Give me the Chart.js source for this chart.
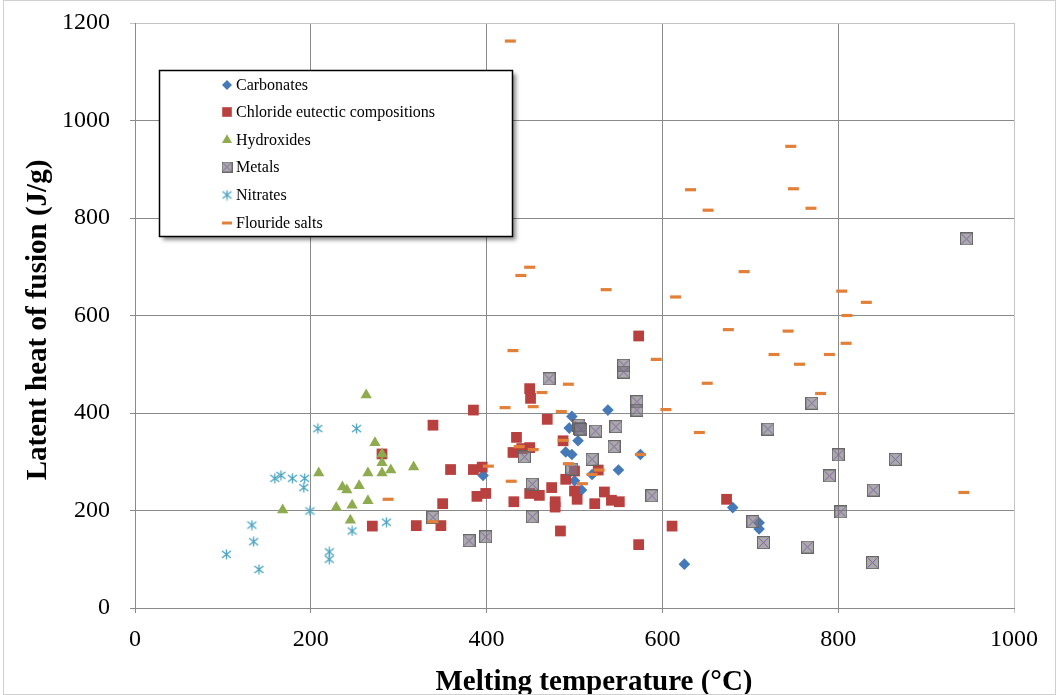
<!DOCTYPE html>
<html>
<head>
<meta charset="utf-8">
<title>Latent heat vs melting temperature</title>
<script src="https://cdn.jsdelivr.net/npm/chart.js@4.4.1/dist/chart.umd.min.js"></script>
<style>
  html, body { margin: 0; padding: 0; background: #ffffff; }
  #wrap { width: 1059px; height: 695px; }
</style>
</head>
<body>
<div id="wrap"><canvas id="chart" width="1059" height="695"></canvas></div>
<script>
// ==================================================
// DATOS - temperatura de fusión (°C) y calor latente (J/g)
// ==================================================
const carbonatesT = [396, 497, 494, 504, 490, 497, 500, 508, 520, 538, 550, 575, 680, 710, 710, 625];
const carbonatesH = [272, 393, 369, 343, 320, 315, 261, 242, 274, 406, 283, 315, 206, 175, 162, 90];

const chloridesT = [339, 281, 359, 350, 270, 320, 348, 385, 395, 385, 389, 399, 431, 434, 430, 440, 449, 449, 450, 469,
                    487, 449, 460, 474, 490, 500, 503, 478, 478, 500, 527, 523, 534, 542, 551, 484, 573, 573, 673, 611];
const chloridesH = [375, 316, 284, 214, 168, 169, 169, 284, 289, 406, 229, 235, 218, 350, 319, 327, 329, 450, 430, 387,
                    343, 235, 231, 247, 264, 240, 223, 218, 207, 281, 283, 214, 238, 221, 218, 158, 130, 558, 223, 168];

const hydroxidesT = [263, 273, 281, 281, 265, 281, 291, 317, 209, 236, 241, 255, 229, 247, 265, 168, 245];
const hydroxidesH = [437, 339, 316, 298, 277, 277, 283, 289, 277, 248, 242, 251, 206, 211, 220, 201, 180];

const metalsT = [339, 471, 556, 556, 571, 571, 506, 505, 507, 524, 547, 545, 520, 443, 497, 452, 588, 452, 380, 399,
                 770, 720, 800, 790, 840, 803, 703, 715, 765, 839, 865, 946];
const metalsH = [186, 470, 498, 484, 423, 406, 368, 375, 366, 363, 372, 331, 305, 310, 285, 254, 230, 187, 138, 146,
                 420, 367, 314, 271, 242, 197, 177, 134, 125, 93, 305, 757];

const nitratesT = [208, 252, 159, 166, 179, 193, 192, 199, 133, 135, 104, 141, 221, 221, 247, 286];
const nitratesH = [368, 368, 266, 272, 266, 266, 247, 199, 170, 136, 110, 79, 115, 100, 158, 176];

const fluoridesT = [427, 746, 632, 749, 652, 769, 693, 449, 439, 536, 615, 804, 832, 810, 675, 743, 809, 727, 790, 756,
                    593, 430, 651, 493, 463, 780, 421, 453, 485, 604, 642, 437, 453, 487, 402, 493, 520, 528, 509, 428,
                    575, 339, 288, 943];
const fluoridesH = [1163, 947, 858, 860, 816, 820, 690, 699, 682, 653, 638, 650, 627, 600, 571, 568, 543, 520, 520, 500,
                    510, 528, 461, 459, 442, 440, 411, 413, 403, 407, 360, 331, 325, 344, 291, 296, 274, 283, 255, 260,
                    315, 177, 223, 237];

const seriesNames = ['Carbonates', 'Chloride eutectic compositions', 'Hydroxides', 'Metals', 'Nitrates', 'Flouride salts'];
const xTicks = [0, 200, 400, 600, 800, 1000];
const yTicks = [0, 200, 400, 600, 800, 1000, 1200];

const xTitle = 'Melting temperature (°C)';
const yTitle = 'Latent heat of fusion (J/g)';

// ==================================================
// MARCADORES PERSONALIZADOS
// ==================================================
function makeMetalIcon(size) {
    const c = document.createElement('canvas');
    c.width = size; c.height = size;
    const g = c.getContext('2d');
    g.fillStyle = 'rgba(125,125,125,0.65)';
    g.fillRect(0, 0, size, size);
    g.strokeStyle = 'rgba(95,95,95,0.9)';
    g.lineWidth = 1;
    g.strokeRect(0.5, 0.5, size - 1, size - 1);
    g.strokeStyle = '#7d5fa6';
    g.beginPath();
    g.moveTo(1.5, 1.5); g.lineTo(size - 1.5, size - 1.5);
    g.moveTo(size - 1.5, 1.5); g.lineTo(1.5, size - 1.5);
    g.stroke();
    return c;
}

function makeNitrateIcon(size) {
    const c = document.createElement('canvas');
    c.width = size; c.height = size;
    const g = c.getContext('2d');
    const m = size / 2;
    g.strokeStyle = '#4aa3c0';
    g.lineWidth = 1.3;
    g.beginPath();
    g.moveTo(m, 0.5); g.lineTo(m, size - 0.5);
    g.moveTo(1, 2); g.lineTo(size - 1, size - 2);
    g.moveTo(size - 1, 2); g.lineTo(1, size - 2);
    g.stroke();
    return c;
}

const metalIcon = makeMetalIcon(13);
const metalIconSmall = makeMetalIcon(11);
const nitrateIcon = makeNitrateIcon(11);

function toPoints(xs, ys) {
    return xs.map((x, i) => ({ x: x, y: ys[i] }));
}

const datasets = [
    {
        label: seriesNames[0],
        data: toPoints(carbonatesT, carbonatesH),
        pointStyle: 'rectRot',
        pointRadius: 5.8,
        backgroundColor: '#4579b8',
        borderColor: '#4579b8',
        borderWidth: 0,
        order: 6
    },
    {
        label: seriesNames[1],
        data: toPoints(chloridesT, chloridesH),
        pointStyle: 'rect',
        pointRadius: 7.6,
        backgroundColor: '#b8403e',
        borderColor: '#b8403e',
        borderWidth: 0,
        order: 5
    },
    {
        label: seriesNames[2],
        data: toPoints(hydroxidesT, hydroxidesH),
        pointStyle: 'triangle',
        pointRadius: 6.5,
        backgroundColor: '#8eac4f',
        borderColor: '#8eac4f',
        borderWidth: 0,
        order: 4
    },
    {
        label: seriesNames[3],
        data: toPoints(metalsT, metalsH),
        pointStyle: metalIcon,
        order: 3
    },
    {
        label: seriesNames[4],
        data: toPoints(nitratesT, nitratesH),
        pointStyle: nitrateIcon,
        order: 2
    },
    {
        label: seriesNames[5],
        data: toPoints(fluoridesT, fluoridesH),
        pointStyle: 'line',
        pointRadius: 5.5,
        backgroundColor: '#e2803a',
        borderColor: '#e2803a',
        borderWidth: 3.2,
        order: 1
    }
];

// ==================================================
// LEYENDA EN CAJA (como en el original)
// ==================================================
const boxLegend = {
    id: 'boxLegend',
    afterDraw(chart) {
        const ctx = chart.ctx;
        const bx = 159.5, by = 70.5, bw = 353, bh = 166;
        ctx.save();
        ctx.shadowColor = 'rgba(0,0,0,0.45)';
        ctx.shadowBlur = 4;
        ctx.shadowOffsetX = 3;
        ctx.shadowOffsetY = 3;
        ctx.fillStyle = '#ffffff';
        ctx.fillRect(bx, by, bw, bh);
        ctx.restore();

        ctx.save();
        ctx.strokeStyle = '#000000';
        ctx.lineWidth = 1.5;
        ctx.strokeRect(bx, by, bw, bh);

        const rows = [85, 112, 140, 167, 195, 223];
        const styles = [
            { pointStyle: 'rectRot', radius: 5, color: '#4579b8', bw: 0 },
            { pointStyle: 'rect', radius: 6.8, color: '#b8403e', bw: 0 },
            { pointStyle: 'triangle', radius: 5.8, color: '#8eac4f', bw: 0 },
            { pointStyle: metalIconSmall },
            { pointStyle: nitrateIcon },
            { pointStyle: 'line', radius: 5, color: '#e2803a', bw: 3 }
        ];
        ctx.font = '16px "Liberation Serif", "Times New Roman", serif';
        ctx.textBaseline = 'middle';
        ctx.textAlign = 'left';
        rows.forEach((y, i) => {
            const s = styles[i];
            ctx.fillStyle = s.color || '#000';
            ctx.strokeStyle = s.color || '#000';
            ctx.lineWidth = s.bw || 0;
            Chart.helpers.drawPoint(ctx, {
                pointStyle: s.pointStyle,
                radius: s.radius || 5,
                rotation: 0,
                borderWidth: s.bw || 0
            }, 227, y);
            ctx.fillStyle = '#000000';
            ctx.fillText(seriesNames[i], 236, y + 1);
        });
        ctx.restore();
    }
};

// ==================================================
// TÍTULOS DE EJES Y BORDE EXTERIOR
// ==================================================
const axisTitles = {
    id: 'axisTitles',
    afterDraw(chart) {
        const ctx = chart.ctx;
        ctx.save();
        ctx.fillStyle = '#000000';
        ctx.font = 'bold 29px "Liberation Serif", "Times New Roman", serif';
        ctx.textAlign = 'center';
        ctx.textBaseline = 'alphabetic';
        ctx.fillText(xTitle, 594, 690);
        ctx.translate(46, 320);
        ctx.rotate(-Math.PI / 2);
        ctx.fillText(yTitle, 0, 0);
        ctx.restore();

        ctx.save();
        ctx.strokeStyle = '#d0d0d0';
        ctx.lineWidth = 1;
        ctx.strokeRect(3.5, 0.5, 1052, 694);
        ctx.restore();
    }
};

const tickFont = { family: '"Liberation Serif", "Times New Roman", serif', size: 24 };

function gridColor(ctx) {
    const v = ctx.tick ? ctx.tick.value : null;
    if (v === 1200 || v === 1000 && ctx.scale.axis === 'x') return '#c4c4c4';
    return '#8a8a8a';
}

new Chart(document.getElementById('chart'), {
    type: 'scatter',
    data: { datasets: datasets },
    options: {
        responsive: false,
        devicePixelRatio: 1,
        animation: false,
        events: [],
        layout: { padding: { left: 0, top: 23, right: 45, bottom: 0 } },
        plugins: {
            legend: { display: false },
            tooltip: { enabled: false }
        },
        scales: {
            x: {
                type: 'linear',
                min: 0,
                max: 1000,
                afterBuildTicks(scale) { scale.ticks = xTicks.map(v => ({ value: v })); },
                afterFit(scale) {
                    scale.height = 87;
                    scale.paddingLeft = 0;
                    scale.paddingRight = 0;
                },
                grid: { color: gridColor, lineWidth: 1, tickLength: 5 },
                border: { color: '#8a8a8a', width: 1 },
                ticks: {
                    font: tickFont,
                    color: '#000000',
                    padding: 12,
                    maxRotation: 0,
                    callback: v => String(v)
                }
            },
            y: {
                type: 'linear',
                min: 0,
                max: 1200,
                afterBuildTicks(scale) { scale.ticks = yTicks.map(v => ({ value: v })); },
                afterFit(scale) {
                    scale.width = 135;
                    scale.paddingTop = 0;
                    scale.paddingBottom = 0;
                },
                grid: { color: gridColor, lineWidth: 1, tickLength: 5 },
                border: { color: '#8a8a8a', width: 1 },
                ticks: {
                    font: tickFont,
                    color: '#000000',
                    padding: 20,
                    callback: v => String(v)
                }
            }
        }
    },
    plugins: [boxLegend, axisTitles]
});
</script>
</body>
</html>
